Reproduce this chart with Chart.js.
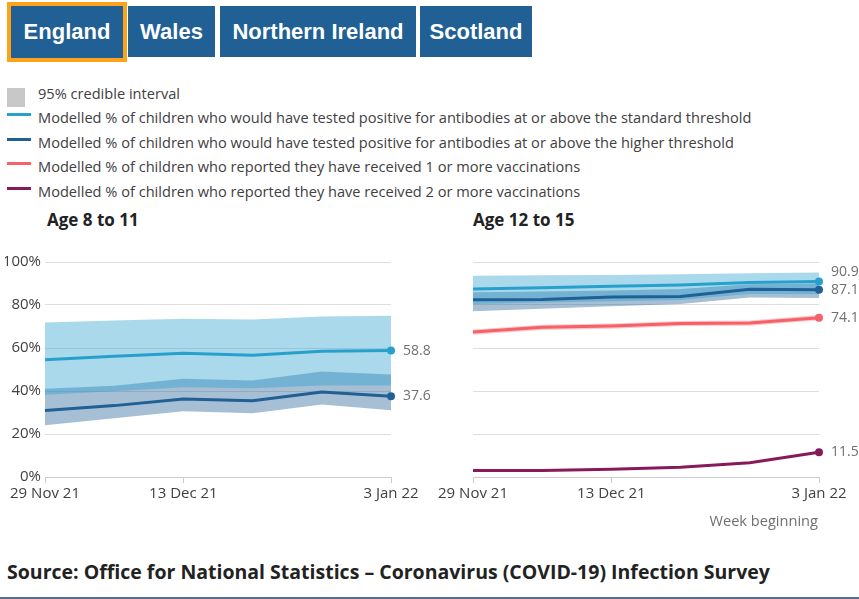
<!DOCTYPE html>
<html>
<head>
<meta charset="utf-8">
<script src="https://cdn.jsdelivr.net/npm/chart.js@4/dist/chart.umd.min.js"></script>
<style>
  body { margin: 0; background: #fff; font-family: 'Open Sans', sans-serif; }
  #page { position: relative; width: 859px; height: 599px; overflow: hidden; border-bottom: 2px solid #5b6a8e; box-sizing: border-box; }
  .tab { position: absolute; top: 6px; height: 51px; background: #206095; color: #fff;
         font: bold 22px 'Liberation Sans', Arial, sans-serif; line-height: 51px; text-align: center; box-sizing: border-box; }
  .tab.active { top: 2px; height: 60px; border: 4px solid #fba41a; line-height: 52px; }
  .leg { position: absolute; left: 38px; font-size: 14.6px; color: #414042; white-space: nowrap; line-height: 18px; }
  .swatch { position: absolute; left: 7px; width: 24px; height: 3px; }
  .title { position: absolute; top: 208px; font-weight: bold; font-size: 17px; color: #222; }
  .box { position: absolute; top: 247px; height: 265px; }
</style>
</head>
<body>
<div id="page">
  <div class="tab active" style="left:7px;width:120px;">England</div>
  <div class="tab" style="left:128px;width:87px;">Wales</div>
  <div class="tab" style="left:220px;width:196px;">Northern Ireland</div>
  <div class="tab" style="left:420px;width:112px;">Scotland</div>

  <div style="position:absolute;left:7px;top:88px;width:18px;height:19px;background:#c8c8c8;"></div>
  <div class="leg" style="top:84px;">95% credible interval</div>
  <div class="swatch" style="top:113px;background:#27a0cc;"></div>
  <div class="leg" style="top:108px;">Modelled % of children who would have tested positive for antibodies at or above the standard threshold</div>
  <div class="swatch" style="top:138px;background:#206095;"></div>
  <div class="leg" style="top:133px;">Modelled % of children who would have tested positive for antibodies at or above the higher threshold</div>
  <div class="swatch" style="top:162px;background:#f66068;"></div>
  <div class="leg" style="top:157px;">Modelled % of children who reported they have received 1 or more vaccinations</div>
  <div class="swatch" style="top:187px;background:#871a5b;"></div>
  <div class="leg" style="top:182px;">Modelled % of children who reported they have received 2 or more vaccinations</div>

  <div class="title" style="left:47px;">Age 8 to 11</div>
  <div class="title" style="left:473px;">Age 12 to 15</div>

  <div class="box" style="left:0;width:440px;"><canvas id="young"></canvas></div>
  <div class="box" style="left:430px;width:429px;"><canvas id="older"></canvas></div>

  <div style="position:absolute;right:41px;top:510px;font-size:14.6px;color:#707071;">Week beginning</div>
  <div style="position:absolute;left:7px;top:558px;font-size:19.5px;font-weight:bold;color:#222;">Source: Office for National Statistics – Coronavirus (COVID-19) Infection Survey</div>
</div>

<script>
const weeks = ['29 Nov 21', '6 Dec 21', '13 Dec 21', '20 Dec 21', '27 Dec 21', '3 Jan 22'];
const shownWeeks = [0, 2, 5];
const yTicks = [0, 20, 40, 60, 80, 100];

// Age 8 to 11
const std8 = [54.5, 56.2, 57.5, 56.6, 58.5, 58.8];
const std8Low = [38.2, 39.9, 41.8, 41.3, 42.6, 42.6];
const std8High = [71.9, 72.8, 73.6, 73.3, 74.7, 75.0];
const high8 = [30.9, 33.2, 36.3, 35.5, 39.5, 37.6];
const high8Low = [24.1, 27.3, 30.6, 29.6, 33.7, 31.0];
const high8High = [41.0, 42.4, 45.7, 44.9, 49.1, 47.7];

// Age 12 to 15
const std12 = [87.4, 88.0, 88.7, 89.3, 90.5, 90.9];
const std12Low = [80.5, 81.2, 81.8, 82.3, 85.1, 85.0];
const std12High = [93.6, 93.8, 94.0, 94.3, 94.8, 95.1];
const high12 = [82.4, 82.6, 83.7, 84.0, 87.3, 87.1];
const high12Low = [77.1, 78.2, 79.4, 80.5, 83.5, 83.2];
const high12High = [85.9, 86.3, 86.8, 87.4, 89.7, 90.0];
const vac1 = [67.4, 69.6, 70.2, 71.4, 71.6, 74.1];
const vac1Low = [66.2, 68.4, 69.0, 70.2, 70.4, 72.9];
const vac1High = [68.6, 70.8, 71.4, 72.6, 72.8, 75.3];
const vac2 = [3.0, 3.0, 3.6, 4.5, 6.6, 11.5];

const LIGHT = '#27a0cc', DARK = '#206095', CORAL = '#f66068', PLUM = '#871a5b';

Chart.defaults.font.family = "'Open Sans', sans-serif";
Chart.defaults.font.size = 15;
Chart.defaults.color = '#414042';

const lastIdx = weeks.length - 1;

function line(data, color) {
  return {
    data: data, borderColor: color, backgroundColor: color, borderWidth: 3,
    fill: false, tension: 0, showEnd: true,
    pointRadius: ctx => ctx.dataIndex === lastIdx ? 4 : 0,
    pointBorderWidth: 0
  };
}

// upper edge fills down to the lower edge pushed right after it
function band(upper, lower, fillColor) {
  return [
    { data: upper, borderWidth: 0, pointRadius: 0, fill: '+1', backgroundColor: fillColor },
    { data: lower, borderWidth: 0, pointRadius: 0, fill: false }
  ];
}

// value labels beside the final points, nudged apart when they crowd
const endLabels = {
  id: 'endLabels',
  afterDatasetsDraw(chart) {
    const ctx = chart.ctx;
    const items = [];
    chart.data.datasets.forEach((ds, i) => {
      if (!ds.showEnd) return;
      const pt = chart.getDatasetMeta(i).data[lastIdx];
      items.push({ x: pt.x + 12, y: pt.y, text: ds.data[lastIdx].toFixed(1) });
    });
    items.sort((a, b) => b.y - a.y);
    for (let i = 1; i < items.length; i++) {
      if (items[i - 1].y - items[i].y < 18) items[i].y = items[i - 1].y - 18;
    }
    ctx.save();
    ctx.font = "14px 'Open Sans', sans-serif";
    ctx.fillStyle = '#707071';
    ctx.textBaseline = 'middle';
    items.forEach(it => ctx.fillText(it.text, it.x, it.y));
    ctx.restore();
  }
};

function makeChart(id, datasets, showY, padding) {
  return new Chart(document.getElementById(id), {
    type: 'line',
    data: { labels: weeks, datasets: datasets },
    plugins: [endLabels],
    options: {
      responsive: true,
      maintainAspectRatio: false,
      animation: false,
      layout: { padding: padding },
      plugins: { legend: { display: false }, tooltip: { enabled: false } },
      scales: {
        x: {
          grid: { drawOnChartArea: false, color: '#cccccc', tickLength: 6 },
          border: { color: '#cccccc' },
          ticks: { autoSkip: false, maxRotation: 0, padding: 2, color: '#414042' },
          afterBuildTicks: s => { s.ticks = s.ticks.filter(t => shownWeeks.includes(t.value)); },
          afterFit: s => { s.height = 30; }
        },
        y: {
          min: 0, max: 100,
          grid: { color: '#dedede', drawTicks: false },
          border: { display: false },
          ticks: { display: showY, padding: 4, callback: v => v + '%' },
          afterBuildTicks: s => { s.ticks = yTicks.map(v => ({ value: v })); },
          afterFit: s => { s.width = showY ? 40 : 0; }
        }
      }
    }
  });
}

makeChart('young', [
  line(std8, LIGHT),
  line(high8, DARK),
  ...band(std8High, std8Low, 'rgba(39,160,204,0.4)'),
  ...band(high8High, high8Low, 'rgba(32,96,149,0.4)')
], true, { left: 5, top: 15, right: 49, bottom: 5 });

makeChart('older', [
  line(std12, LIGHT),
  line(high12, DARK),
  line(vac1, CORAL),
  line(vac2, PLUM),
  ...band(std12High, std12Low, 'rgba(39,160,204,0.4)'),
  ...band(high12High, high12Low, 'rgba(32,96,149,0.4)'),
  ...band(vac1High, vac1Low, 'rgba(246,96,104,0.35)')
], false, { left: 43, top: 15, right: 40, bottom: 5 });
</script>
</body>
</html>
